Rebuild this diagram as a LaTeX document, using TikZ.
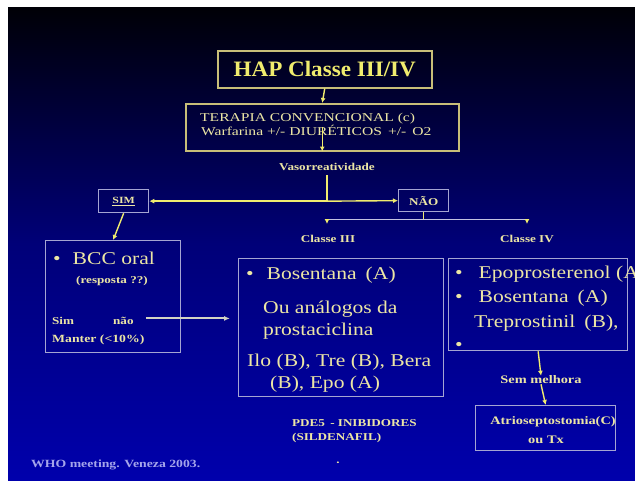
\documentclass[tikz,border=0pt]{standalone}
\usepackage{fontspec}
\setmainfont{Liberation Serif}
\newfontfamily\wideS[FakeStretch=1.25]{Liberation Serif}
\newfontfamily\wideB[FakeStretch=1.2]{Liberation Serif}
\newfontfamily\wideT[FakeStretch=1.3]{Liberation Serif}
\newfontfamily\wideH[FakeStretch=1.05]{Liberation Serif}
\usetikzlibrary{arrows.meta}
\definecolor{ylw}{RGB}{240,236,110}
\definecolor{txt}{RGB}{236,230,165}
\definecolor{bdrY}{RGB}{200,190,120}
\definecolor{bdrB}{RGB}{165,165,210}
\definecolor{splitc}{RGB}{195,195,225}
\definecolor{foot}{RGB}{165,165,235}
\definecolor{grayarr}{RGB}{210,210,195}
\definecolor{bgtop}{RGB}{0,0,6}
\definecolor{bgmid}{RGB}{0,0,120}
\definecolor{bgbot}{RGB}{0,0,172}
\tikzset{
  boxY/.style={draw=bdrY, line width=1.5pt, inner sep=0pt, anchor=north west},
  boxB/.style={draw=bdrB, line width=1.3pt, inner sep=0pt, anchor=north west},
  tx/.style={text=txt, inner sep=0pt},
  sm/.style={tx, font=\wideS\bfseries\fontsize{10.5}{12}\selectfont},
  big/.style={tx, font=\wideB\fontsize{18}{21}\selectfont, anchor=base west},
  arr/.style={draw=ylw, line width=1.4pt, -{Latex[length=5pt,width=5pt]}},
  ln/.style={draw=ylw, line width=1.4pt},
  splitarr/.style={draw=splitc, line width=1.4pt, -{Latex[length=5pt,width=5pt,color=ylw]}},
  arrG/.style={draw=grayarr, line width=2pt, -{Latex[length=6pt,width=5pt]}}
}
\begin{document}
\begin{tikzpicture}[x=1pt,y=-1pt]
\useasboundingbox (0,0) rectangle (635,482);
\fill[white] (0,0) rectangle (635,482);
\fill[top color=bgtop, bottom color=bgbot, middle color=bgmid] (8,7) rectangle (635,480);

% title
\node[boxY, minimum width=214pt, minimum height=37pt] (title) at (217,50) {};
\node[text=ylw, font=\wideH\bfseries\fontsize{22}{25}\selectfont, inner sep=0pt] (titletxt) at (title.center) {HAP Classe III/IV};

% terapia
\node[boxY, minimum width=273pt, minimum height=47pt] (ter) at (185,103) {};
\node[tx, font=\wideT\fontsize{12}{14}\selectfont, anchor=base west] (ter1) at (200,121) {TERAPIA CONVENCIONAL (c)};
\node[tx, font=\wideT\fontsize{12}{14}\selectfont, anchor=base west] (ter2) at (201,135) {Warfarina +/- DIURÉTICOS\enspace +/-\enspace O2};
\draw[arr] (title.south) -- (ter.north);
\draw[arr] (ter.center) -- (ter.south);

% vasorreatividade
\node[sm] (vaso) at (327,167) {Vasorreatividade};
\node[boxB, minimum width=50pt, minimum height=23pt] (sim) at (98,189) {};
\node[sm, font=\wideS\bfseries\fontsize{9.5}{11}\selectfont] (simtxt) at (sim.center) {\underline{SIM}};
\node[boxB, minimum width=50pt, minimum height=22pt] (nao) at (398,189) {};
\node[sm] (naotxt) at (nao.center) {NÃO};
\coordinate (mid) at (vaso.south |- sim.east);
\draw[ln] ([yshift=-4pt]vaso.south) -- (mid);
\draw[arr] (mid) -- (sim.east);
\draw[arr] (mid) -- (nao.west);

% split
\coordinate (sp) at ([yshift=-7pt]nao.south);
\coordinate (t3) at (327,224);
\coordinate (t4) at (527,224);
\draw[ln] (nao.south) -- (sp);
\draw[splitarr] (sp) -| (t3);
\draw[splitarr] (sp) -| (t4);
\node[sm] (cl3) at (328,239) {Classe III};
\node[sm] (cl4) at (527,239) {Classe IV};

% BCC box
\node[boxB, minimum width=135pt, minimum height=112pt] (bcc) at (45,240) {};
\draw[arr] (sim.south) -- (bcc.north);
\node[big] (bcc1) at (53,264) {•\hspace{12pt}BCC oral};
\node[sm] (bcc2) at (112,281) {(resposta ??)};
\node[sm, anchor=base west] (bcc3) at (52,324) {Sim};
\node[sm, anchor=base west] (bcc4) at (113,324) {não};
\node[sm, anchor=base west, font=\wideS\bfseries\fontsize{11}{12}\selectfont] (bcc5) at (52,342) {Manter (<10\%)};

% Classe III box
\node[boxB, minimum width=205pt, minimum height=138pt] (c3box) at (238,258) {};
\draw[arrG] ([xshift=12pt,yshift=2pt]bcc4.east) -- ([xshift=-8pt,yshift=2pt]c3box.west |- bcc4.east);
\node[big] (c31) at (246,279) {•\hspace{13pt}Bosentana\enspace(A)};
\node[big] (c32) at (263,313) {Ou análogos da};
\node[big] (c33) at (263,335) {prostaciclina};
\node[big] (c34) at (247,366) {Ilo (B), Tre (B), Bera};
\node[big] (c35) at (270,388) {(B), Epo (A)};

% Classe IV box
\node[boxB, minimum width=179pt, minimum height=92pt] (c4box) at (448,258) {};
\node[big] (c41) at (455,278) {•\hspace{16pt}Epoprosterenol (A};
\node[big] (c42) at (455,302) {•\hspace{16pt}Bosentana\enspace(A)};
\node[big] (c43) at (474,327) {Treprostinil\enspace(B),};
\node[big] (c44) at (455,350) {•};

% sem melhora
\node[sm, font=\wideS\bfseries\fontsize{11.5}{13}\selectfont] (sem) at (541,380) {Sem melhora};
\draw[arr] (c4box.south) -- (sem.north);
\node[boxB, minimum width=140pt, minimum height=45pt] (atrio) at (475,405) {};
\draw[arr] (sem.south) -- (atrio.north);
\node[sm, font=\wideS\bfseries\fontsize{11.5}{13}\selectfont] (atrio1) at (553,422) {Atrioseptostomia(C)};
\node[sm, font=\wideS\bfseries\fontsize{11.5}{13}\selectfont] (atrio2) at (546,440) {ou Tx};

% PDE5
\node[sm, anchor=base west] (pde1) at (292,426) {PDE5\enspace - INIBIDORES};
\node[sm, anchor=base west] (pde2) at (292,440) {(SILDENAFIL)};
\node[sm] (dot) at (338,463) {.};

% footnote
\node[sm, text=foot, font=\wideS\bfseries\fontsize{11}{12}\selectfont, anchor=base west] (foot) at (31,467) {WHO meeting. Veneza 2003.};
\end{tikzpicture}
\end{document}
